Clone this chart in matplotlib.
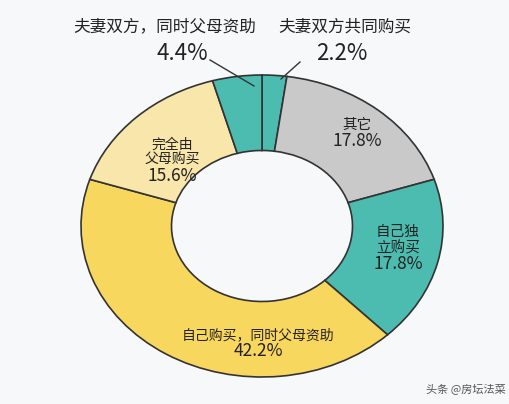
import matplotlib
matplotlib.use("Agg")
import matplotlib.pyplot as plt

plt.rcParams['font.family'] = ['Noto Sans CJK SC', 'DejaVu Sans']

labels = ["夫妻双方共同购买", "其它", "自己独立购买", "自己购买，同时父母资助", "完全由父母购买", "夫妻双方，同时父母资助"]
values = [2.2, 17.8, 17.8, 42.2, 15.6, 4.4]
colors = ["#4dbcb0", "#c9c9c9", "#4dbcb0", "#f8d75e", "#f8e6ab", "#4dbcb0"]

W, H = 510, 404
fig = plt.figure(figsize=(W/100, H/100), dpi=100)
fig.patch.set_facecolor("#f7f8f9")
cx, cy, rx, ry = 262, 226, 181, 151
ax = fig.add_axes([(cx-rx)/W, (H-cy-ry)/H, 2*rx/W, 2*ry/H])
ax.pie(values, colors=colors, startangle=90, counterclock=False, radius=1,
       wedgeprops=dict(width=0.5, edgecolor="#333333", linewidth=1.2))
ax.set_aspect('auto')
ax.set_xlim(-1, 1); ax.set_ylim(-1, 1)
ax.axis('off')

def d(px, py):
    return ((px-cx)/rx, (cy-py)/ry)

def t(px, py, s, size, **kw):
    x, y = d(px, py)
    ax.text(x, y, s, ha='center', va='center', fontsize=size, color="#222222",
            linespacing=1.1, clip_on=False, **kw)

def t2(px, py, s, p, s1, s2):
    x, y = d(px, py)
    ax.text(x, y, s, ha='center', va='bottom', fontsize=s1, color="#222222", linespacing=1.1, clip_on=False)
    ax.text(x, y, p, ha='center', va='top', fontsize=s2, color="#222222", clip_on=False)

t2(357, 132, "其它", f"{values[1]}%", 10.5, 12.5)
t2(398, 255, "自己独\n立购买", f"{values[2]}%", 10.5, 12.5)
t2(258, 342, "自己购买，同时父母资助", f"{values[3]}%", 10, 12.5)
t2(172, 167, "完全由\n父母购买", f"{values[4]}%", 10, 12.5)

t(165, 27, labels[5], 12)
t(182, 53, f"{values[5]}%", 16)
t(345, 27, labels[0], 12)
t(342, 53, f"{values[0]}%", 16)

for (a, b) in [((210, 60), (254, 86)), ((300, 62), (281, 79))]:
    x0, y0 = d(*a); x1, y1 = d(*b)
    ax.plot([x0, x1], [y0, y1], color="#333333", lw=1, clip_on=False)

fig.text(466/W, 1-390/H, "头条 @房坛法菜", ha='center', va='center', fontsize=8, color="#555555")
fig.savefig("out.png", dpi=100, facecolor=fig.get_facecolor())
